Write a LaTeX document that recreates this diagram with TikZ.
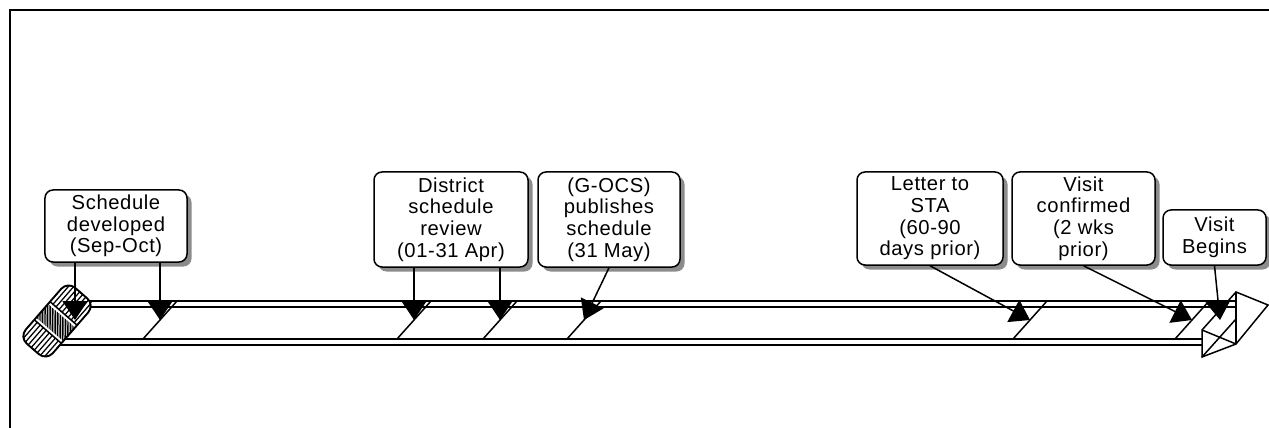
\documentclass[tikz,border=0pt]{standalone}
\usepackage{fontspec}
\newfontfamily\boxfont[LetterSpace=3]{Liberation Sans}
\usetikzlibrary{shapes, arrows.meta, shadows}

\tikzstyle{event} = [rectangle, rounded corners=1.6mm, draw=black, line width=0.3mm, fill=white, align=center, inner sep=0pt, font={\boxfont\fontsize{11.5}{12.3}\selectfont}, drop shadow={shadow xshift=0.9mm, shadow yshift=-0.9mm, fill=black!45, opacity=1}]
\tikzstyle{arrow} = [line width=0.3mm, -{Triangle[width=5mm, length=3.8mm]}]
\tikzstyle{ribbon} = [line width=0.3mm]

\begin{document}
\begin{tikzpicture}[x=0.2mm, y=-0.2mm]
\useasboundingbox (0,0) rectangle (1269,428);

% Frame
\draw [line width=0.5mm] (10,428) -- (10,10) -- (1269,10);

% Ribbon edges
\draw [ribbon] (55,301) -- (1236,301);
\draw [ribbon] (55,307) -- (1236,307);
\draw [ribbon] (40,339) -- (1202,339);
\draw [ribbon] (40,345) -- (1202,345);

% Segment marks, with the points the pointers land on
\foreach \x [count=\i from 0] in {58, 143, 397, 483, 567, 1013, 1175}
  \draw [ribbon] (\x,339) -- coordinate (m\i) ++(34,-38);

% Arrow head at the right end
\coordinate (aA) at (1236,292);
\coordinate (aB) at (1236,319);
\coordinate (aC) at (1236,344);
\coordinate (aD) at (1202,357);
\coordinate (aE) at (1202,330);
\coordinate (aT) at (1268,305);
\coordinate (aM) at (1220,320);
\draw [ribbon] (aE) -- (aA) -- (aT) -- (aC) -- (aD) -- cycle;
\draw [ribbon] (aA) -- (aC);
\draw [ribbon] (aE) -- (aC);
\draw [ribbon] (aD) -- (aB);

% Cylinder at the left end
\begin{scope}[shift={(57,321)}, rotate=49]
  \draw [line width=0.35mm, fill=white, rounded corners=2mm] (-37,-18) rectangle (37,18);
  \clip [rounded corners=2mm] (-37,-18) rectangle (37,18);
  \foreach \v in {-14,-10,...,14}
    \draw [line width=0.25mm] (-37,\v) -- (-14,\v) (10,\v) -- (37,\v);
  \begin{scope}
    \clip (-11,-18) rectangle (7,18);
    \foreach \u in {-60,-57.5,...,10}
      \draw [line width=0.2mm] (\u,18) -- ++(41,-36);
  \end{scope}
  \draw [line width=0.3mm] (-14,-18) -- (-14,18) (10,-18) -- (10,18);
  \draw [line width=0.35mm, rounded corners=2mm] (-37,-18) rectangle (37,18);
\end{scope}

% Events
\node (sched) [event, minimum width=28.4mm, minimum height=14.4mm] at (116,226) {Schedule\\developed\\(Sep-Oct)};
\node (review) [event, minimum width=30.8mm, minimum height=19mm] at (451,219.5) {District\\schedule\\review\\(01-31 Apr)};
\node (publish) [event, minimum width=28.4mm, minimum height=19mm] at (609,219.5) {(G-OCS)\\publishes\\schedule\\(31 May)};
\node (letter) [event, minimum width=29.2mm, minimum height=18.6mm] at (930,218.5) {Letter to\\STA\\(60-90\\days prior)};
\node (confirm) [event, minimum width=28.6mm, minimum height=18.6mm] at (1083.5,218.5) {Visit\\confirmed\\(2 wks\\prior)};
\node (begins) [event, minimum width=20.6mm, minimum height=11mm] at (1214.5,237.5) {Visit\\Begins};

% Pointers
\draw [arrow] (sched.south -| m0) -- (m0);
\draw [arrow] (sched.south -| m1) -- (m1);
\draw [arrow] (review.south -| m2) -- (m2);
\draw [arrow] (review.south -| m3) -- (m3);
\draw [arrow] (publish.south) -- (m4);
\draw [arrow] (letter.south) -- (m5);
\draw [arrow] (confirm.south) -- (m6);
\draw [arrow] (begins.south) -- (aM);

\end{tikzpicture}
\end{document}
